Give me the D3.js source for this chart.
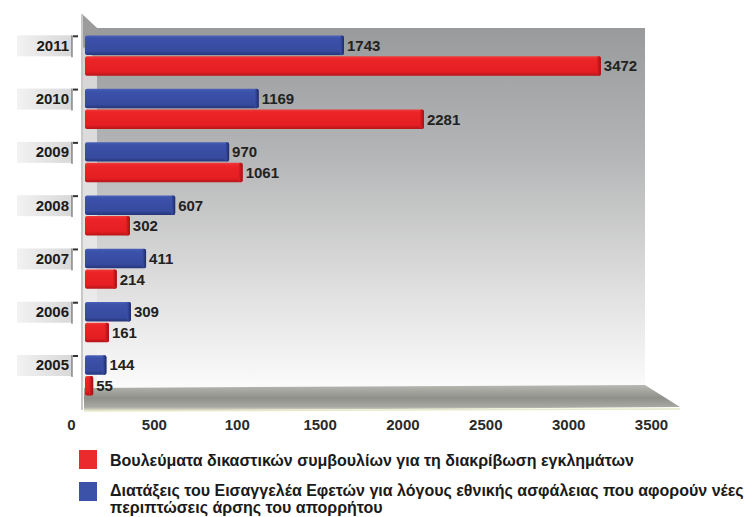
<!DOCTYPE html>
<html><head><meta charset="utf-8">
<script src="https://cdn.jsdelivr.net/npm/d3@7"></script>
<style>body{margin:0;background:#fff;}svg{display:block;font-family:"Liberation Sans",Arial,sans-serif;}</style>
</head><body>
<svg id="c" width="753" height="517"></svg>
<script>
const years = ["2011","2010","2009","2008","2007","2006","2005"];
const blueValues = [1743,1169,970,607,411,309,144];
const redValues = [3472,2281,1061,302,214,161,55];
const tickValues = [0,500,1000,1500,2000,2500,3000,3500];
const tickLabels = ["0","500","100","1500","2000","2500","3000","3500"];
const seriesNames = ["Διατάξεις","Βουλεύματα"];
const legendRed = "Βουλεύματα δικαστικών συμβουλίων για τη διακρίβωση εγκλημάτων";
const legendBlue1 = "Διατάξεις του Εισαγγελέα Εφετών για λόγους εθνικής ασφάλειας που αφορούν νέες";
const legendBlue2 = "περιπτώσεις άρσης του απορρήτου";

const svg = d3.select("#c");
const defs = svg.append("defs");
function lg(id, stops, vertical=true){
  const g = defs.append("linearGradient").attr("id",id)
    .attr("x1",0).attr("y1",0).attr("x2",vertical?0:1).attr("y2",vertical?1:0);
  stops.forEach(s=>g.append("stop").attr("offset",s[0]).attr("stop-color",s[1]));
}
lg("wall",[[0,"#999a9b"],[0.35,"#b4b5b6"],[0.75,"#e2e2e2"],[1,"#fbfbfb"]]);
lg("floor",[[0,"#b8b8b2"],[0.5,"#8f908a"],[0.85,"#a8a9a2"],[1,"#e9ead2"]]);
lg("blueG",[[0,"#4a5fb8"],[0.15,"#3c51aa"],[0.8,"#364a9e"],[1,"#27367a"]]);
lg("redG",[[0,"#f03a3a"],[0.15,"#ec2427"],[0.8,"#e41e22"],[1,"#b51518"]]);
lg("blueCap",[[0,"#3c51aa"],[1,"#1f2c6a"]],false);
lg("redCap",[[0,"#e41e22"],[1,"#a01215"]],false);
lg("yearBox",[[0,"#f2f2f2"],[1,"#d8d8d8"]],false);
lg("leftWall",[[0,"#d0d0d0"],[1,"#f4f4f4"]]);

// 3D frame
svg.append("rect").attr("x",97).attr("y",28).attr("width",548).attr("height",360).attr("fill","url(#wall)");
svg.append("path").attr("d","M82,14 L97,28 L97,388 L82,402 Z").attr("fill","url(#leftWall)");
svg.append("path").attr("d","M82,14 L97,28 L97,60 L82,46 Z").attr("fill","#9c9c9c");
svg.append("line").attr("x1",82).attr("y1",14).attr("x2",82).attr("y2",410).attr("stroke","#c8c8c8").attr("stroke-width",2);
svg.append("path").attr("d","M84,388 L645,385 L680,407 L84,411 Z").attr("fill","url(#floor)");
svg.append("line").attr("x1",84).attr("y1",411).attr("x2",680).attr("y2",409).attr("stroke","#e6e8c8").attr("stroke-width",1.5);

const x = d3.scaleLinear().domain([0,3500]).range([85,605]);
const xAxisScale = d3.scaleLinear().domain([0,3500]).range([71,651]);
const y = d3.scaleBand().domain(years).range([29,402]).paddingInner(0.2).paddingOuter(0.1);
const y1 = d3.scaleBand().domain(seriesNames).range([0,y.bandwidth()]).padding(0.06);

const rows = years.map((yr,i)=>({yr, vals:[{s:seriesNames[0],v:blueValues[i],f:"url(#blueG)",c:"url(#blueCap)"},{s:seriesNames[1],v:redValues[i],f:"url(#redG)",c:"url(#redCap)"}]}));
const g = svg.selectAll("g.row").data(rows).join("g").attr("class","row")
  .attr("transform",d=>`translate(0,${y(d.yr)})`);
g.selectAll("rect.bar").data(d=>d.vals).join("rect").attr("class","bar")
  .attr("x",x(0)).attr("y",d=>y1(d.s)).attr("width",d=>x(d.v)-x(0)).attr("height",y1.bandwidth())
  .attr("rx",2).attr("fill",d=>d.f);
g.selectAll("rect.cap").data(d=>d.vals).join("rect").attr("class","cap")
  .attr("x",d=>x(d.v)-4).attr("y",d=>y1(d.s)).attr("width",4).attr("height",y1.bandwidth())
  .attr("rx",2).attr("fill",d=>d.c);
g.selectAll("text.val").data(d=>d.vals).join("text").attr("class","val")
  .attr("x",d=>x(d.v)+3).attr("y",d=>y1(d.s)+y1.bandwidth()/2).attr("dy","0.36em")
  .attr("font-size",15).attr("font-weight","bold").attr("fill","#222").text(d=>d.v);

// year labels
const yl = svg.selectAll("g.yl").data(years).join("g").attr("class","yl")
  .attr("transform",d=>`translate(0,${y(d)+y1(seriesNames[0])+y1.bandwidth()/2})`);
yl.append("rect").attr("x",17).attr("y",-10).attr("width",55).attr("height",21).attr("fill","url(#yearBox)");
yl.append("line").attr("x1",72).attr("x2",72).attr("y1",-10).attr("y2",12).attr("stroke","#555").attr("stroke-width",1);
yl.append("line").attr("x1",73).attr("x2",78).attr("y1",-9).attr("y2",-9).attr("stroke","#333").attr("stroke-width",2);
yl.append("text").attr("x",69).attr("y",0).attr("dy","0.36em").attr("text-anchor","end")
  .attr("font-size",15).attr("font-weight","bold").attr("fill","#1a1a1a").text(d=>d);

// x axis labels
const ax = d3.axisBottom(xAxisScale).tickValues(tickValues).tickSize(0).tickFormat((d,i)=>tickLabels[i]);
const axg = svg.append("g").attr("transform","translate(0,416)").call(ax);
axg.select(".domain").remove();
axg.selectAll("text").attr("font-size",15).attr("font-weight","bold").attr("fill","#2a2a2a").attr("font-family","Liberation Sans, Arial, sans-serif");

// legend
const leg = svg.append("g");
const lt = {size:16, fill:"#1a1a1a"};
leg.append("rect").attr("x",79).attr("y",450).attr("width",18).attr("height",19).attr("fill","#ea2a2c");
leg.append("text").attr("x",110).attr("y",460).attr("dy","0.36em").attr("font-size",lt.size).attr("font-weight","bold").attr("fill",lt.fill).text(legendRed);
leg.append("rect").attr("x",79).attr("y",482).attr("width",18).attr("height",19).attr("fill","#3c52a8");
leg.append("text").attr("x",110).attr("y",490).attr("dy","0.36em").attr("font-size",lt.size).attr("font-weight","bold").attr("fill",lt.fill).text(legendBlue1);
leg.append("text").attr("x",110).attr("y",507).attr("dy","0.36em").attr("font-size",lt.size).attr("font-weight","bold").attr("fill",lt.fill).text(legendBlue2);
</script>
</body></html>
